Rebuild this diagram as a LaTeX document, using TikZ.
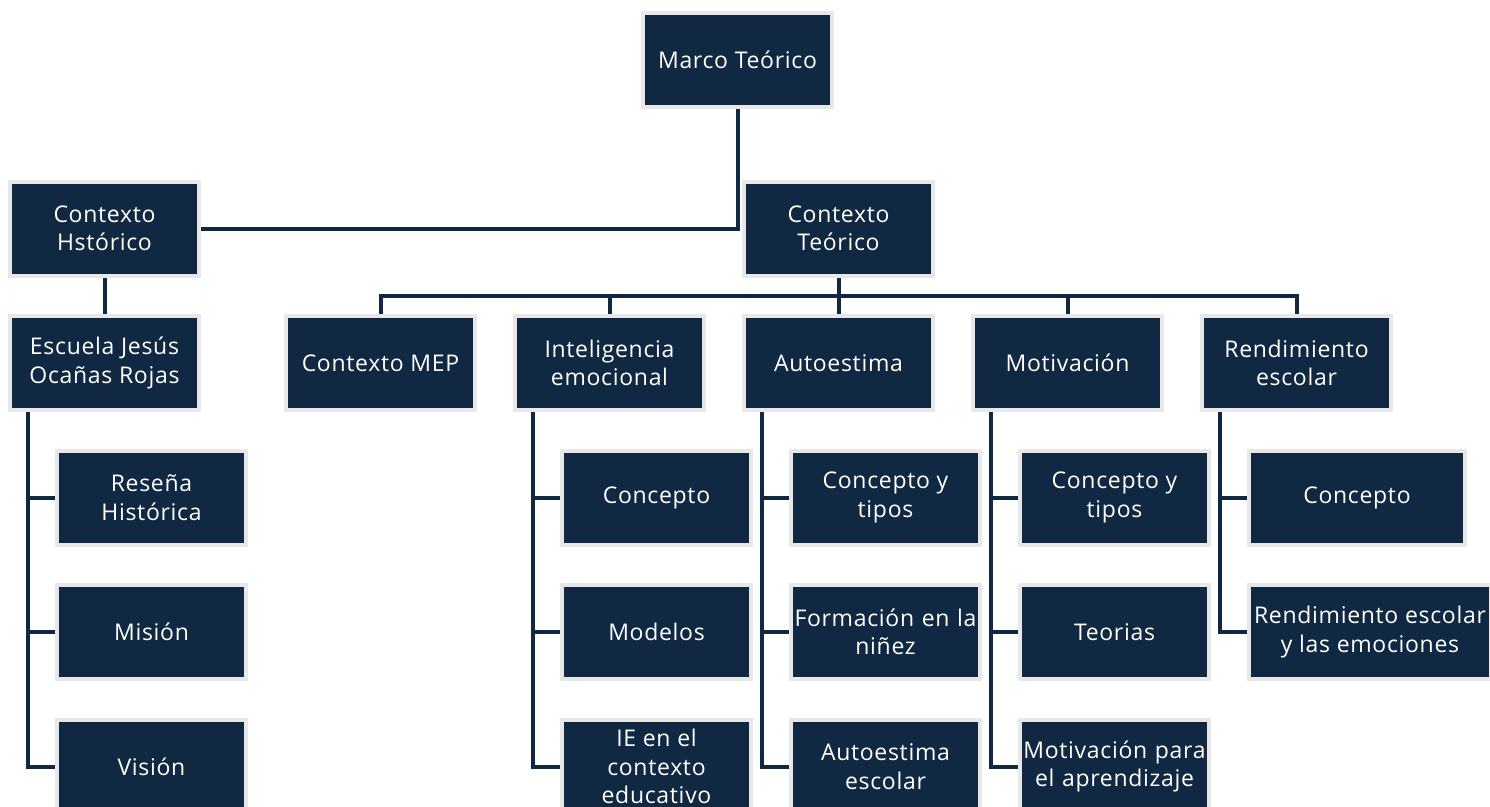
\documentclass[tikz,border=0pt]{standalone}
\usepackage{fontspec}
\setmainfont[LetterSpace=3]{Open Sans}
\definecolor{navy}{RGB}{16,40,65}
\definecolor{edgegrey}{RGB}{232,232,232}
\begin{document}
\begin{tikzpicture}[x=1pt,y=-1pt,
  box/.style={draw=edgegrey, line width=4pt, fill=navy, text=white, minimum width=189pt,
    minimum height=94pt, inner sep=0pt, align=center,
    font=\fontsize{23}{28.5}\selectfont},
  link/.style={draw=navy, line width=4pt}]
\useasboundingbox (0,0) rectangle (1490,806);
% level 0/1
\node[box] (marco) at (737.5,59.5) {Marco Teórico};
\node[box] (hist) at (104.5,228.5) {Contexto\\Hstórico};
\node[box] (teo) at (838.5,228.5) {Contexto\\Teórico};
% level 2
\node[box] (esc) at (104.5,363) {Escuela Jesús\\Ocañas Rojas};
\node[box] (mep) at (380.5,363) {Contexto MEP};
\node[box] (ie) at (609.5,363) {Inteligencia\\emocional};
\node[box] (auto) at (838.5,363) {Autoestima};
\node[box] (moti) at (1067.5,363) {Motivación};
\node[box] (rend) at (1296.5,363) {Rendimiento\\escolar};
% level 3
\node[box] (resena) at (151.5,497.5) {Reseña\\Histórica};
\node[box] (mision) at (151.5,632) {Misión};
\node[box] (vision) at (151.5,766.5) {Visión};
\node[box] (ieconc) at (656.5,497.5) {Concepto};
\node[box] (iemod) at (656.5,632) {Modelos};
\node[box] (ieedu) at (656.5,766.5) {IE en el\\contexto\\educativo};
\node[box] (auconc) at (885.5,497.5) {Concepto y\\tipos};
\node[box, text width=189pt] (auform) at (885.5,632) {Formación en la\\niñez};
\node[box] (auesc) at (885.5,766.5) {Autoestima\\escolar};
\node[box] (moconc) at (1114.5,497.5) {Concepto y\\tipos};
\node[box] (moteo) at (1114.5,632) {Teorias};
\node[box, text width=189pt] (moapr) at (1114.5,766.5) {Motivación para\\el aprendizaje};
\node[box, minimum width=216pt] (reconc) at (1357,497.5) {Concepto};
\node[box, minimum width=242pt] (reemo) at (1370,632) {Rendimiento escolar\\y las emociones};
% connectors
\draw[link] (marco.south) |- (hist.east);
\coordinate (bus) at (0,296);
\draw[link] (teo.south) -- (teo.south |- bus);
\draw[link] (mep.north) -- (mep.north |- bus) -- (rend.north |- bus) -- (rend.north);
\draw[link] (ie.north) -- (ie.north |- bus);
\draw[link] (auto.north) -- (auto.north |- bus);
\draw[link] (moti.north) -- (moti.north |- bus);
\draw[link] (hist.south) -- (esc.north);
% branch spines
\coordinate (sesc) at ([xshift=20pt]esc.south west);
\coordinate (sie) at ([xshift=20pt]ie.south west);
\coordinate (sau) at ([xshift=20pt]auto.south west);
\coordinate (smo) at ([xshift=20pt]moti.south west);
\coordinate (sre) at ([xshift=20pt]rend.south west);
\draw[link] (sesc) |- (vision.west);
\draw[link] (sesc |- resena.west) -- (resena.west);
\draw[link] (sesc |- mision.west) -- (mision.west);
\draw[link] (sie) |- (ieedu.west);
\draw[link] (sie |- ieconc.west) -- (ieconc.west);
\draw[link] (sie |- iemod.west) -- (iemod.west);
\draw[link] (sau) |- (auesc.west);
\draw[link] (sau |- auconc.west) -- (auconc.west);
\draw[link] (sau |- auform.west) -- (auform.west);
\draw[link] (smo) |- (moapr.west);
\draw[link] (smo |- moconc.west) -- (moconc.west);
\draw[link] (smo |- moteo.west) -- (moteo.west);
\draw[link] (sre) |- (reemo.west);
\draw[link] (sre |- reconc.west) -- (reconc.west);
\end{tikzpicture}
\end{document}
